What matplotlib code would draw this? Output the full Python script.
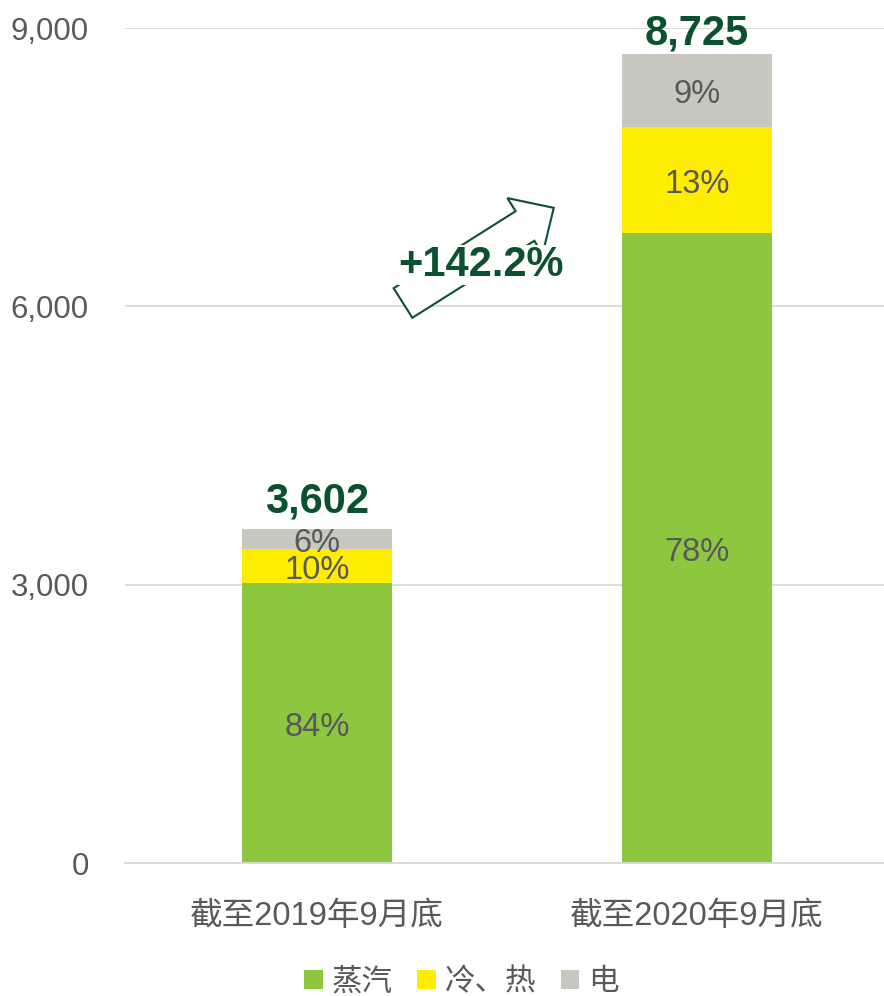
import matplotlib.pyplot as plt
from matplotlib.patches import Patch, FancyArrow
from matplotlib.transforms import IdentityTransform

plt.rcParams['font.family'] = ['Liberation Sans', 'Noto Sans CJK SC', 'DejaVu Sans']

# data
categories = ['截至2019年9月底', '截至2020年9月底']
series_names = ['蒸汽', '冷、热', '电']
steam = [3018, 6790]
cold_heat = [366, 1143]
power = [218, 792]
colors = ['#8DC63F', '#FFED00', '#C8C8C0']

series = [steam, cold_heat, power]
totals = [sum(v) for v in zip(*series)]

fig = plt.figure(figsize=(8.84, 9.96), dpi=100)
ax = fig.add_axes([125 / 884, 133 / 996, 759 / 884, 835 / 996])

x = range(len(categories))
bottom = [0] * len(categories)
for vals, col in zip(series, colors):
    bars = ax.bar(x, vals, width=0.395, bottom=bottom, color=col, zorder=2)
    for rect, v, t in zip(bars, vals, totals):
        ax.annotate(f'{round(v / t * 100)}%',
                    (rect.get_x() + rect.get_width() / 2, rect.get_y() + rect.get_height() / 2),
                    xytext=(0, -3), textcoords='offset points', ha='center', va='center',
                    fontsize=23.5, color='#595959', zorder=3)
    bottom = [b + v for b, v in zip(bottom, vals)]

# totals above bars (the taller one sits tight under the plot top)
for i, (t, off) in enumerate(zip(totals, [5, 0])):
    ax.annotate(f'{t:,}', (i, t), xytext=(0, off), textcoords='offset points',
                ha='center', va='bottom', fontsize=30, fontweight='bold', color='#0B5130',
                annotation_clip=False)

ax.set_xlim(-0.505, 1.492)
ax.set_ylim(0, 9000)
ax.set_yticks([0, 3000, 6000, 9000])
ax.set_yticklabels([f'{v:,}' for v in [0, 3000, 6000, 9000]])
ax.yaxis.grid(True, color='#D9D9D9', linewidth=1.3, zorder=0)
ax.set_axisbelow(True)
ax.set_xticks(list(x))
ax.set_xticklabels(categories)
ax.tick_params(axis='y', length=0, pad=26, labelsize=22.5, labelcolor='#595959')
ax.tick_params(axis='x', length=0, pad=27, labelsize=23.5, labelcolor='#595959')
for s in ['top', 'right', 'left']:
    ax.spines[s].set_visible(False)
ax.spines['bottom'].set_color('#D9D9D9')
ax.spines['bottom'].set_linewidth(1.3)

# growth arrow (pixel coordinates, origin bottom-left)
arrow = FancyArrow(403, 996 - 303, 122, 77, width=35, head_width=66,
                   head_length=34, length_includes_head=False,
                   transform=IdentityTransform(), facecolor='white',
                   edgecolor='#0B5130', linewidth=1.5, zorder=5)
fig.patches.append(arrow)
growth = totals[1] / totals[0] - 1
fig.text(481 / 884, 1 - 265 / 996, f'+{growth * 100:.1f}%', ha='center', va='center',
         fontsize=30, fontweight='bold', color='#0B5130', zorder=6,
         bbox=dict(facecolor='white', edgecolor='none', pad=0))

handles = [Patch(facecolor=c) for c in colors]
fig.legend(handles, series_names, loc='center', bbox_to_anchor=(0.522, 1 - 982 / 996),
           ncol=3, frameon=False, fontsize=22, labelcolor='#595959', borderaxespad=0,
           handlelength=0.6, handleheight=0.6, handletextpad=0.3, columnspacing=0.8)

fig.savefig('out.png', dpi=100)
